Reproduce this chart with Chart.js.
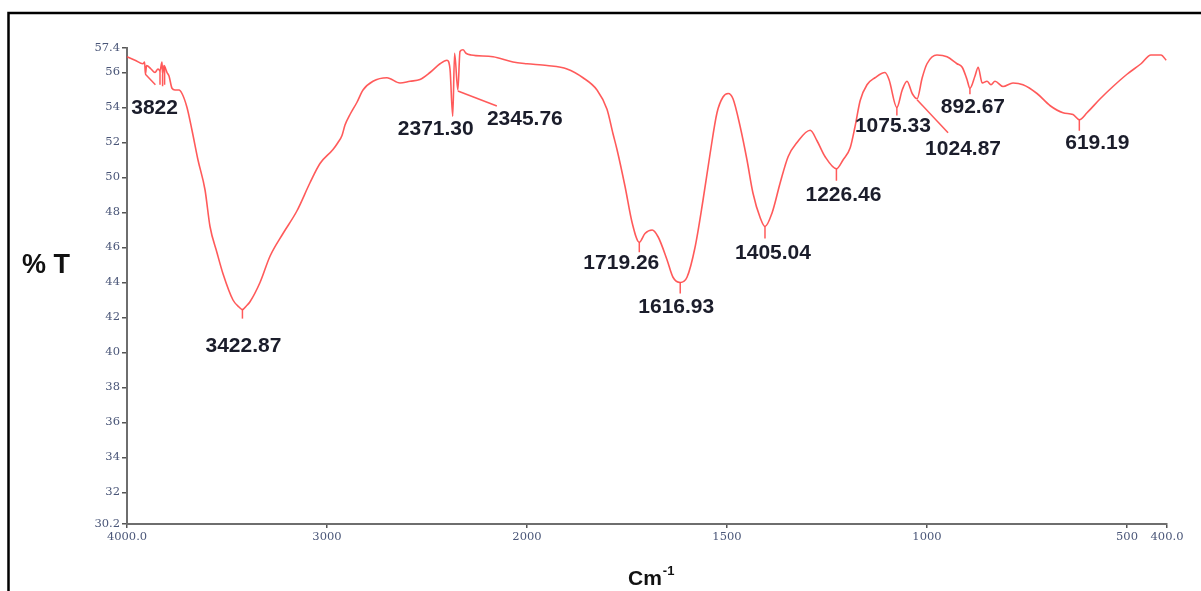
<!DOCTYPE html>
<html>
<head>
<meta charset="utf-8">
<title>FTIR spectrum</title>
<script src="https://cdn.jsdelivr.net/npm/chart.js@4.4.1/dist/chart.umd.min.js"></script>
<style>
  html, body { margin: 0; padding: 0; background: #ffffff; overflow: hidden; }
  #wrap { position: relative; width: 1201px; height: 591px; }
  canvas { display: block; }
</style>
</head>
<body>
<div id="wrap"><canvas id="ftir" width="1201" height="591"></canvas></div>
<script>
// ---- Spectrum data (wavenumber in cm-1, transmittance in %) ----
const wavenumbers = [
  4000, 3960, 3920, 3912, 3908, 3902, 3880, 3860, 3845, 3835, 3825, 3822, 3815, 3800,
  3790, 3775, 3760, 3740, 3725, 3700, 3675, 3645, 3610, 3585, 3550, 3520, 3470, 3440,
  3422.87, 3400, 3385, 3335, 3285, 3220, 3150, 3085, 3035, 2970, 2945, 2925, 2910, 2885,
  2850, 2820, 2770, 2700, 2635, 2585, 2535, 2485, 2435, 2400, 2385, 2371.30, 2362,
  2345.76, 2335, 2320, 2305, 2280, 2170, 2070, 2000, 1950, 1900, 1860, 1825, 1800, 1785,
  1775, 1755, 1737, 1719.26, 1705, 1687, 1672, 1650, 1635, 1616.93, 1600, 1580, 1560,
  1542, 1525, 1510, 1497, 1485, 1467, 1450, 1435, 1417, 1405.04, 1387, 1367, 1347, 1325,
  1292, 1275, 1255, 1226.46, 1210, 1192, 1180, 1167, 1150, 1130, 1105, 1095, 1075.33,
  1062, 1050, 1037, 1024.87, 1012, 1000, 975, 950, 925, 912, 900, 892.67, 880, 872, 862,
  850, 840, 830, 810, 785, 760, 725, 692, 660, 635, 619.19, 600, 567, 535, 500, 465, 440,
  415, 402
];
const transmittance = [
  56.9, 56.7, 56.5, 56.6, 55.9, 56.4, 56.2, 56.0, 56.2, 56.1, 56.6, 55.9, 56.4, 56.0,
  55.8, 55.1, 55.0, 55.0, 54.8, 54.0, 52.7, 51.0, 49.3, 47.2, 45.7, 44.5, 43.0, 42.6,
  42.45, 42.7, 42.9, 44.0, 45.5, 46.8, 48.1, 49.7, 50.8, 51.6, 52.0, 52.4, 53.0, 53.6,
  54.3, 55.0, 55.5, 55.7, 55.4, 55.5, 55.6, 56.0, 56.5, 56.7, 56.2, 53.5, 57.1,
  55.0, 57.2, 57.3, 57.1, 57.0, 56.9, 56.6, 56.5, 56.4, 56.2, 55.7, 55.0, 53.9, 52.5,
  51.6, 49.5, 47.4, 46.3, 46.8, 47.0, 46.6, 45.3, 44.3, 44.0, 44.3, 46.0, 48.7,
  51.4, 53.7, 54.6, 54.8, 54.5, 52.9, 51.0, 49.1, 47.7, 47.2, 48.0, 49.7, 51.2, 52.0,
  52.7, 52.1, 51.2, 50.5, 51.0, 51.7, 52.9, 54.4, 55.3, 55.7, 56.0, 55.6, 54.0,
  55.0, 55.5, 54.8, 54.5, 55.7, 56.5, 57.0, 56.9, 56.5, 56.3, 55.6, 55.1, 55.8, 56.3, 55.4,
  55.5, 55.3, 55.5, 55.2, 55.4, 55.3, 54.8, 54.1, 53.7, 53.6, 53.3, 53.7, 54.5, 55.2, 55.9, 56.5, 57.0,
  57.0, 56.7
];

// ---- Axis ticks ----
const xTickValues = [4000, 3000, 2000, 1500, 1000, 500, 400];
const xTickLabels = ['4000.0', '3000', '2000', '1500', '1000', '500', '400.0'];
const yTickValues = [57.4, 56, 54, 52, 50, 48, 46, 44, 42, 40, 38, 36, 34, 32, 30.2];
const yTickLabels = ['57.4', '56', '54', '52', '50', '48', '46', '44', '42', '40', '38', '36', '34', '32', '30.2'];

// ---- Labelled absorption bands ----
const peakWavenumbers = [3822, 3422.87, 2371.30, 2345.76, 1719.26, 1616.93, 1405.04, 1226.46, 1075.33, 1024.87, 892.67, 619.19];
const peakLabels = ['3822', '3422.87', '2371.30', '2345.76', '1719.26', '1616.93', '1405.04', '1226.46', '1075.33', '1024.87', '892.67', '619.19'];

// Wavenumber axis as drawn by FTIR software: 4000-2000 cm-1 is compressed to half scale.
const { LinearScale } = Chart;
const HIGH_REGION_FACTOR = 0.5;
const SCALE_BREAK = 2000;
class WavenumberScale extends LinearScale {
  _span() {
    return (this.max - SCALE_BREAK) * HIGH_REGION_FACTOR + (SCALE_BREAK - this.min);
  }
  _dist(v) {
    return v >= SCALE_BREAK
      ? (this.max - v) * HIGH_REGION_FACTOR
      : (this.max - SCALE_BREAK) * HIGH_REGION_FACTOR + (SCALE_BREAK - v);
  }
  getPixelForValue(v) {
    return this.left + this.width * this._dist(v) / this._span();
  }
  getValueForPixel(p) {
    const d = (p - this.left) / this.width * this._span();
    const hb = (this.max - SCALE_BREAK) * HIGH_REGION_FACTOR;
    return d <= hb ? this.max - d / HIGH_REGION_FACTOR : SCALE_BREAK - (d - hb);
  }
}
WavenumberScale.id = 'wavenumber';
WavenumberScale.defaults = LinearScale.defaults;
Chart.register(WavenumberScale);

const LINE_RED = 'rgba(255, 72, 72, 0.9)';
const LABEL_COLOR = '#1b1d2b';
const TICK_COLOR = '#4a5678';
const LABEL_FONT = 'bold 21px "Liberation Sans", Arial, sans-serif';

// label placement for each band: [dx, dy] of text centre from the band minimum,
// and optional leader line end instead of a short drop line
const bandLayout = {
  '3822':    { dx: -8,  dy: 34, drop: 12 },
  '3422.87': { dx: 1,   dy: 37, drop: 9 },
  '2371.30': { dx: -17, dy: 13, drop: 0 },
  '2345.76': { dx: 67,  dy: 29, leader: [39, 16] },
  '1719.26': { dx: -18, dy: 21, drop: 10 },
  '1616.93': { dx: -4,  dy: 25, drop: 11 },
  '1405.04': { dx: 8,   dy: 27, drop: 12 },
  '1226.46': { dx: 7,   dy: 26, drop: 12 },
  '1075.33': { dx: -4,  dy: 19, drop: 8 },
  '1024.87': { dx: 46,  dy: 50, leader: [31, 34] },
  '892.67':  { dx: 3,   dy: 19, drop: 6 },
  '619.19':  { dx: 18,  dy: 23, drop: 11 }
};

function valueAt(w) {
  let best = 0;
  for (let i = 1; i < wavenumbers.length; i++) {
    if (Math.abs(wavenumbers[i] - w) < Math.abs(wavenumbers[best] - w)) best = i;
  }
  return transmittance[best];
}

const annotations = {
  id: 'annotations',
  beforeDraw(chart) {
    const ctx = chart.ctx;
    ctx.save();
    ctx.fillStyle = '#ffffff';
    ctx.fillRect(0, 0, chart.width, chart.height);
    // outer frame
    ctx.strokeStyle = '#000000';
    ctx.lineWidth = 2.5;
    ctx.beginPath();
    ctx.moveTo(8.5, chart.height);
    ctx.lineTo(8.5, 13);
    ctx.lineTo(chart.width, 13);
    ctx.stroke();
    ctx.restore();
  },
  afterDatasetsDraw(chart) {
    const ctx = chart.ctx;
    const xs = chart.scales.x, ys = chart.scales.y;
    ctx.save();
    ctx.lineWidth = 1.5;
    ctx.strokeStyle = LINE_RED;
    ctx.font = LABEL_FONT;
    ctx.textAlign = 'center';
    ctx.textBaseline = 'middle';
    peakWavenumbers.forEach((w, i) => {
      const text = peakLabels[i];
      const lay = bandLayout[text];
      const px = xs.getPixelForValue(w);
      const py = ys.getPixelForValue(valueAt(w));
      ctx.beginPath();
      if (lay.leader) {
        ctx.moveTo(px, py + 1);
        ctx.lineTo(px + lay.leader[0], py + lay.leader[1]);
      } else if (lay.drop) {
        ctx.moveTo(px, py);
        ctx.lineTo(px, py + lay.drop);
      }
      ctx.stroke();
      ctx.fillStyle = LABEL_COLOR;
      ctx.fillText(text, px + lay.dx, py + lay.dy);
    });
    // extra drop lines beside the 3822 band
    const xa = xs.getPixelForValue(3835), xb = xs.getPixelForValue(3812);
    ctx.beginPath();
    ctx.moveTo(xa, ys.getPixelForValue(56.1)); ctx.lineTo(xa, ys.getPixelForValue(55.3));
    ctx.moveTo(xb, ys.getPixelForValue(56.3)); ctx.lineTo(xb, ys.getPixelForValue(55.3));
    const xc = xs.getPixelForValue(3908);
    ctx.moveTo(xc, ys.getPixelForValue(55.9)); ctx.lineTo(xc + 10, ys.getPixelForValue(55.3));
    ctx.stroke();

    // axis titles
    ctx.fillStyle = '#111111';
    ctx.textAlign = 'left';
    ctx.textBaseline = 'alphabetic';
    ctx.font = 'bold 27px "Liberation Sans", Arial, sans-serif';
    ctx.fillText('% T', 22, 273);
    ctx.font = 'bold 21px "Liberation Sans", Arial, sans-serif';
    ctx.fillText('Cm', 628, 585);
    const cmW = ctx.measureText('Cm').width;
    ctx.font = 'bold 13px "Liberation Sans", Arial, sans-serif';
    ctx.fillText('-1', 628 + cmW + 1, 575);
    ctx.restore();
  }
};

const tickFont = { family: '"DejaVu Serif", "Liberation Serif", serif', size: 11.5 };

new Chart(document.getElementById('ftir'), {
  type: 'line',
  data: {
    datasets: [{
      label: '%T',
      data: wavenumbers.map((w, i) => ({ x: w, y: transmittance[i] })),
      borderColor: LINE_RED,
      borderWidth: 1.6,
      pointRadius: 0,
      cubicInterpolationMode: 'monotone',
      fill: false,
      clip: false
    }]
  },
  options: {
    responsive: false,
    animation: false,
    devicePixelRatio: 1,
    layout: { padding: { top: 48, right: 34, left: 0, bottom: 0 } },
    plugins: { legend: { display: false }, tooltip: { enabled: false } },
    scales: {
      x: {
        type: 'wavenumber',
        min: 400,
        max: 4000,
        afterBuildTicks: s => { s.ticks = xTickValues.map(v => ({ value: v })); },
        afterFit: s => { s.height = 67; },
        ticks: {
          autoSkip: false, maxRotation: 0, padding: 2,
          color: TICK_COLOR, font: tickFont,
          callback: (v, i) => xTickLabels[i]
        },
        grid: { display: true, drawOnChartArea: false, drawTicks: true, tickLength: 4, color: '#555555', lineWidth: 1.5 },
        border: { display: true, color: '#6e6e6e', width: 2 }
      },
      y: {
        type: 'linear',
        min: 30.2,
        max: 57.4,
        afterBuildTicks: s => { s.ticks = yTickValues.map(v => ({ value: v })); },
        afterFit: s => { s.width = 127; },
        ticks: {
          autoSkip: false, padding: 2,
          color: TICK_COLOR, font: tickFont,
          callback: (v, i) => yTickLabels[i]
        },
        grid: { display: true, drawOnChartArea: false, drawTicks: true, tickLength: 5, color: '#555555', lineWidth: 1.5 },
        border: { display: true, color: '#6e6e6e', width: 2 }
      }
    }
  },
  plugins: [annotations]
});
</script>
</body>
</html>
